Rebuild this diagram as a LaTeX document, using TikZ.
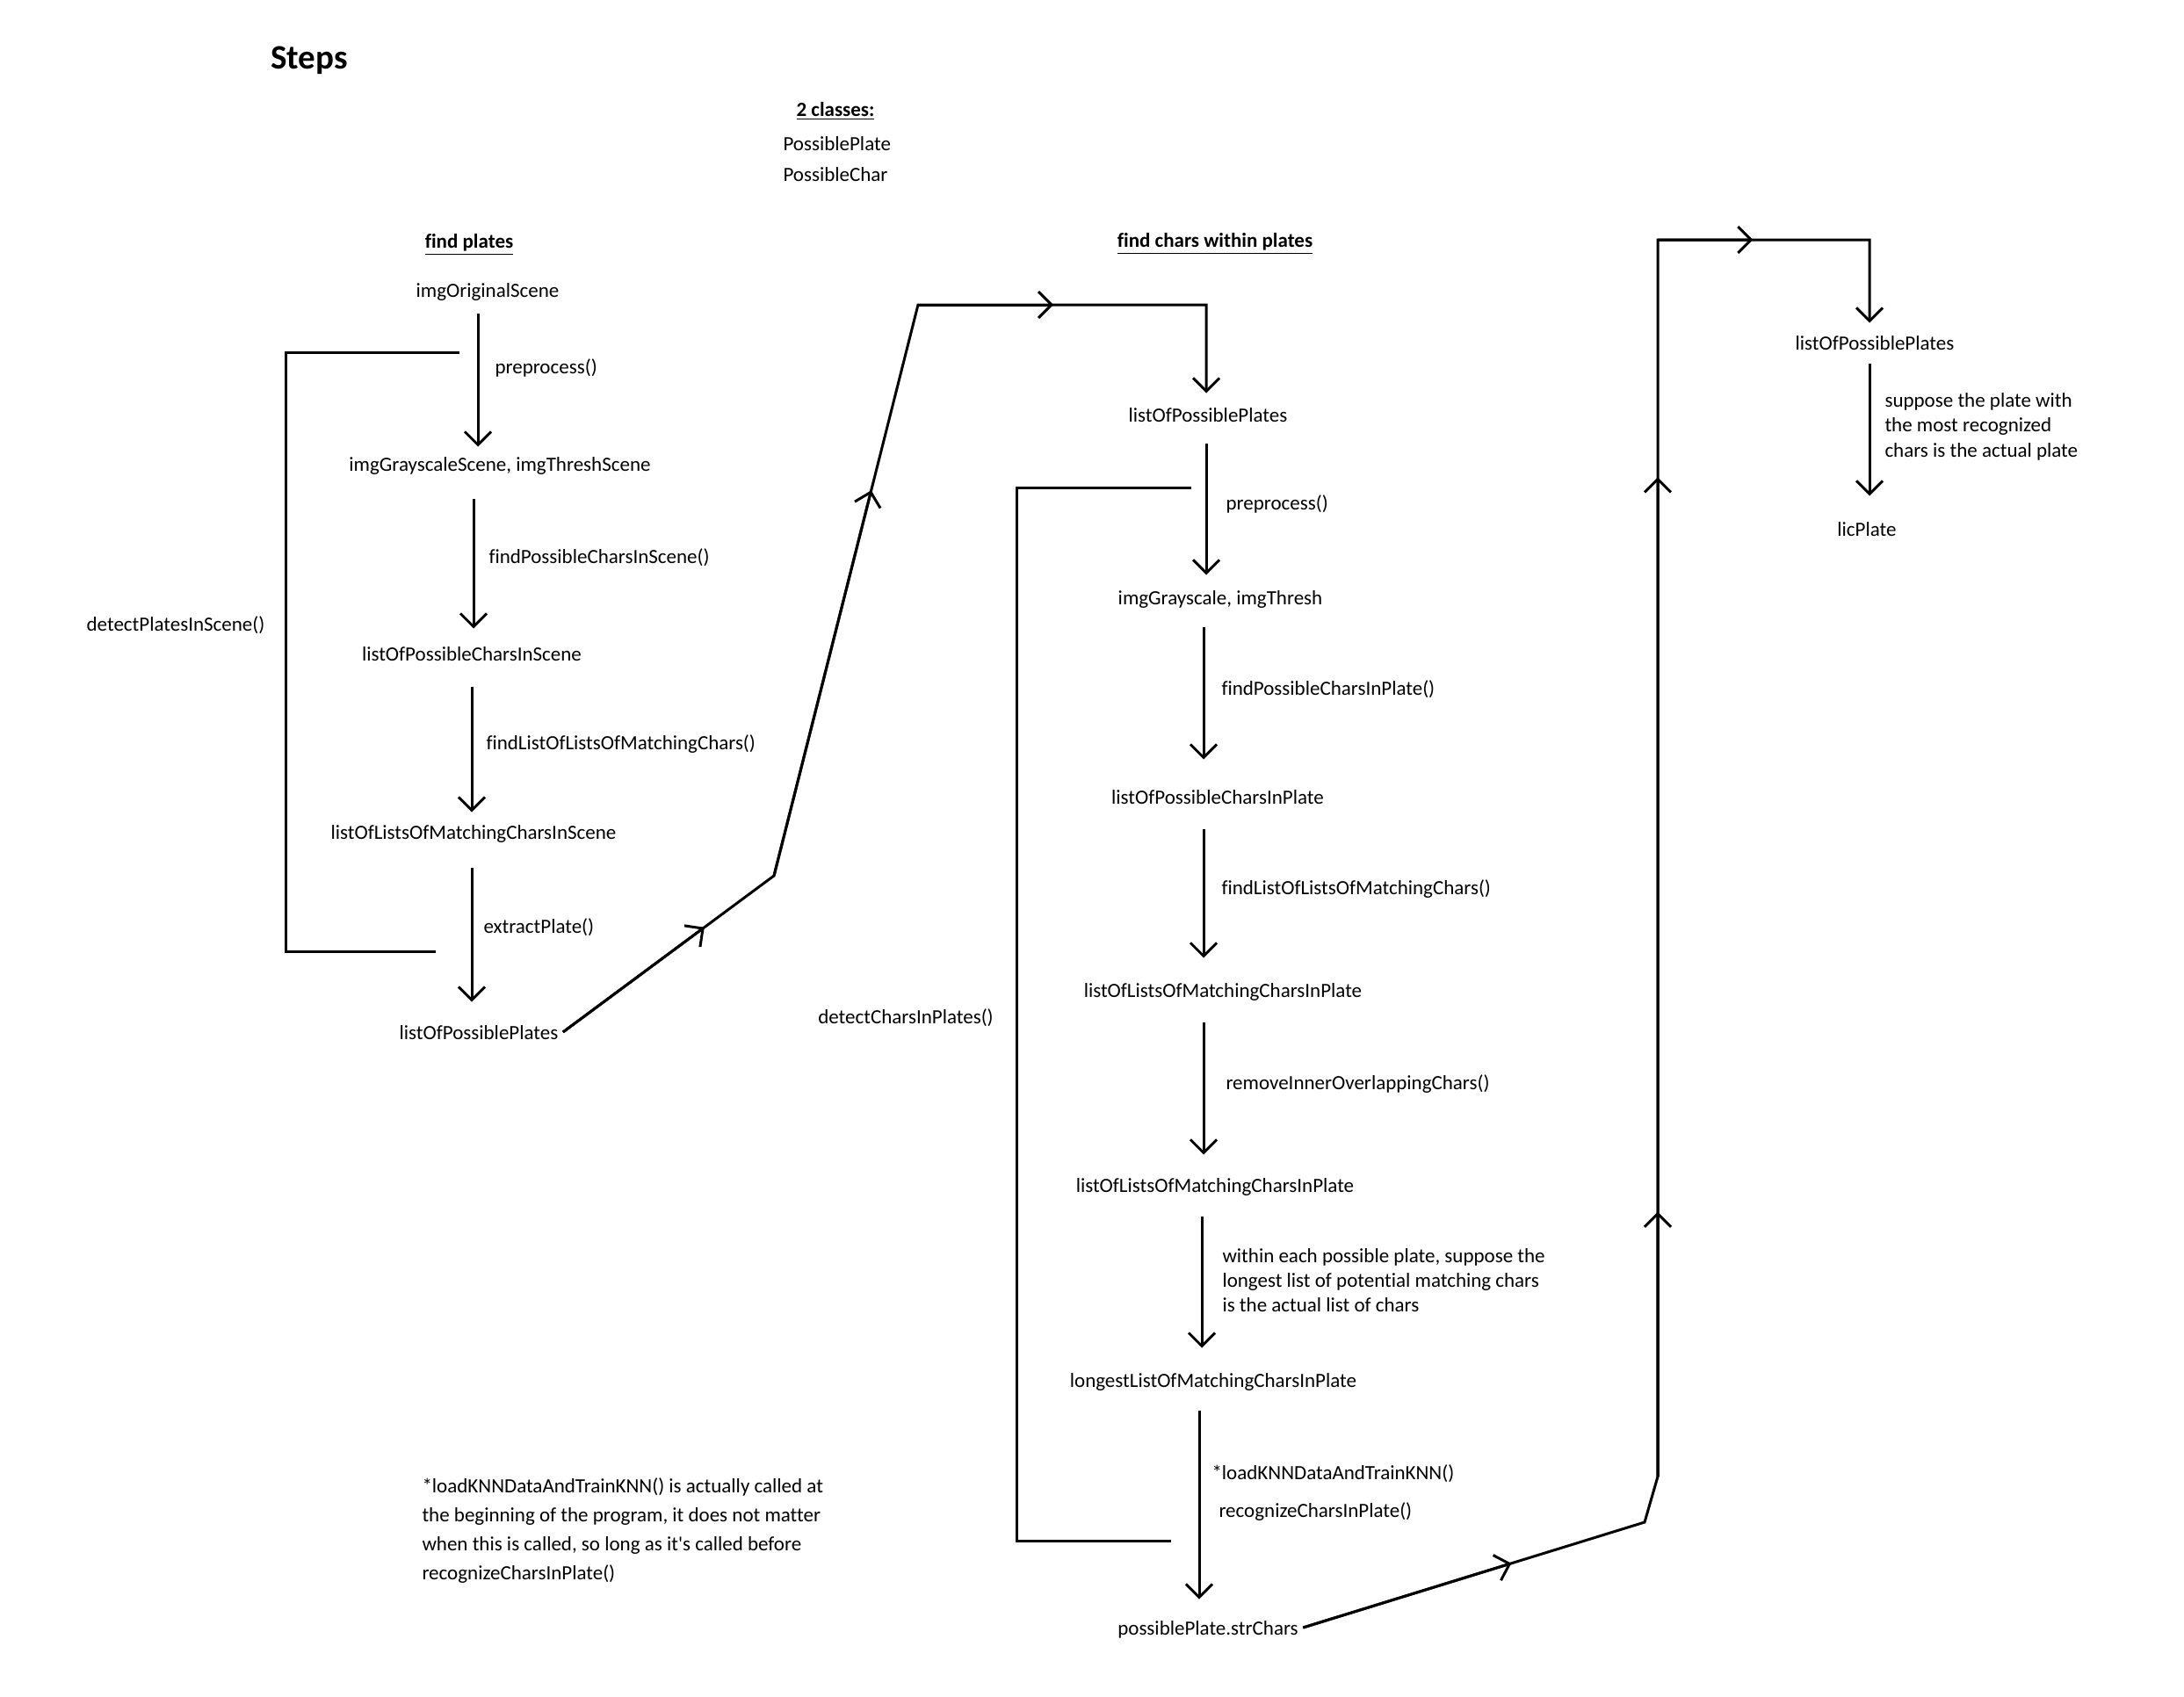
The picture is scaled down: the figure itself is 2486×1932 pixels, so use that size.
\documentclass[tikz,border=0pt]{standalone}
\usepackage{fontspec}
\setmainfont{Carlito}[Ligatures=NoCommon]
\usetikzlibrary{arrows.meta,calc}
\begin{document}
\begin{tikzpicture}[x=0.5pt,y=-0.5pt,line width=1.5pt,
  txt/.style={font=\fontsize{11.5}{14}\selectfont, inner xsep=2pt, inner ysep=0pt,
              text height=9.5pt, text depth=1pt},
  stage/.style={txt, inner ysep=9.75pt},
  head/.style={txt, font=\fontsize{11.5}{14}\selectfont\bfseries},
  note/.style={align=left, inner sep=0pt, anchor=north west},
  arr/.style={-{Straight Barb[length=7.5pt,width=15pt]}}
]
\fill[white] (0,0) rectangle (2486,1932);
\useasboundingbox (0,0) rectangle (2486,1932);

% ---------- header ----------
\node[txt, font=\fontsize{19.5}{22}\selectfont\bfseries] (title) at (352,70) {Steps};
\node[head] (classes) at (951,124) {\underline{2 classes:}};
\node[txt, anchor=west] (cplate) at (886,163) {PossiblePlate};
\node[txt, anchor=west] (cchar) at (886,198) {PossibleChar};

% ---------- find plates ----------
\node[head] (hplates) at (534,274) {\underline{find plates}};
\node[stage] (ios)   at (555,330)  {imgOriginalScene};
\node[stage] (igs)   at (569,528)  {imgGrayscaleScene, imgThreshScene};
\node[stage] (lpcs)  at (537,744)  {listOfPossibleCharsInScene};
\node[stage] (llmcs) at (539,947)  {listOfListsOfMatchingCharsInScene};
\node[stage] (lpp1)  at (545,1175) {listOfPossiblePlates};

\node[txt, anchor=west] (f1) at (558,417)  {preprocess()};
\node[txt, anchor=west] (f2) at (551,633)  {findPossibleCharsInScene()};
\node[txt, anchor=west] (f3) at (548,845)  {findListOfListsOfMatchingChars()};
\node[txt, anchor=west] (f4) at (545,1054) {extractPlate()};
\node[txt] (detplates) at (200,710) {detectPlatesInScene()};

\coordinate (L1) at (544,0);
\coordinate (L2) at (539,0);
\coordinate (L3) at (537,0);
\draw[arr, shorten <=-2.5pt, shorten >=-6pt]  (ios.south -| L1)   -- (igs.north -| L1);
\draw[arr, shorten <=4pt,    shorten >=-1.5pt] (igs.south -| L2)   -- (lpcs.north -| L2);
\draw[arr, shorten <=3pt,    shorten >=-4.5pt] (lpcs.south -| L3)  -- (llmcs.north -| L3);
\draw[arr, shorten <=4.5pt,  shorten >=1.5pt]  (llmcs.south -| L3) -- (lpp1.north -| L3);

% loop bracket of detectPlatesInScene()
\coordinate (pa) at (523,401);
\coordinate (pb) at (325,401);
\coordinate (pc) at (325,1083);
\coordinate (pd) at (496,1083);
\draw (pa) -- (pb) -- (pc) -- (pd);

% ---------- find chars within plates ----------
\node[head] (hchars) at (1383,273) {\underline{find chars within plates}};
\node[stage] (lpp2)    at (1375,472)  {listOfPossiblePlates};
\node[stage] (igt)     at (1389,680)  {imgGrayscale, imgThresh};
\node[stage] (lpcp)    at (1386,907)  {listOfPossibleCharsInPlate};
\node[stage] (llm1)    at (1392,1127) {listOfListsOfMatchingCharsInPlate};
\node[stage] (llm2)    at (1383,1349) {listOfListsOfMatchingCharsInPlate};
\node[stage] (longest) at (1381,1571) {longestListOfMatchingCharsInPlate};
\node[stage] (ps)      at (1375,1853) {possiblePlate.strChars};

\node[txt, anchor=west] (g1) at (1390,572)  {preprocess()};
\node[txt, anchor=west] (g2) at (1385,783)  {findPossibleCharsInPlate()};
\node[txt, anchor=west] (g3) at (1385,1010) {findListOfListsOfMatchingChars()};
\node[txt, anchor=west] (g4) at (1390,1232) {removeInnerOverlappingChars()};
\node[note, font=\fontsize{11.5}{14}\selectfont] (g5) at (1390,1420)
  {within each possible plate, suppose the\\longest list of potential matching chars\\is the actual list of chars};
\node[txt, anchor=west] (g6) at (1374,1676) {*loadKNNDataAndTrainKNN()};
\node[txt, anchor=west] (g7) at (1382,1719) {recognizeCharsInPlate()};
\node[txt] (detchars) at (1031,1157) {detectCharsInPlates()};

\coordinate (M2) at (1370,0);
\coordinate (M3) at (1368,0);
\coordinate (M4) at (1365,0);
\coordinate (k3) at (1373,347);
\draw[arr, shorten <=0.5pt, shorten >=-3pt]  (lpp2.south -| k3)    -- (igt.north -| k3);
\draw[arr, shorten <=1pt,   shorten >=5.5pt] (igt.south -| M2)     -- (lpcp.north -| M2);
\draw[arr, shorten <=2.5pt, shorten >=2.5pt] (lpcp.south -| M2)    -- (llm1.north -| M2);
\draw[arr, shorten <=2.5pt, shorten >=1.5pt] (llm1.south -| M2)    -- (llm2.north -| M2);
\draw[arr, shorten <=2pt,   shorten >=2.5pt] (llm2.south -| M3)    -- (longest.north -| M3);
\draw[arr, shorten <=1.5pt, shorten >=0.5pt] (longest.south -| M4) -- (ps.north -| M4);

% loop bracket of detectCharsInPlates()
\coordinate (qa) at (1356,555);
\coordinate (qb) at (1157,555);
\coordinate (qc) at (1157,1754);
\coordinate (qd) at (1333,1754);
\draw (qa) -- (qb) -- (qc) -- (qd);

% plates passed on to the char search
\coordinate (k1) at (881,997);
\coordinate (k2) at (1045,347);
\draw[arr, shorten >=-3.5pt] (lpp1.east) -- (k1) -- (k2) -- (k3) -- (k3 |- lpp2.north);
\draw[arr] (lpp1.east) -- ($(lpp1.east)!0.67!(k1)$);
\draw[arr] (k1) -- ($(k1)!0.675!(k2)$);
\draw[arr] (k2) -- ($(k2)!0.47!(k3)$);

% ---------- final choice ----------
\node[stage] (lpp3) at (2134,390) {listOfPossiblePlates};
\node[stage] (lic)  at (2125,602) {licPlate};
\node[note, font=\fontsize{11.5}{14.25}\selectfont] (h1) at (2144,446)
  {suppose the plate with\\the most recognized\\chars is the actual plate};

\coordinate (k4) at (1872,1733);
\coordinate (k5) at (1887,1681);
\coordinate (k6) at (1887,273);
\coordinate (k7) at (2128,273);
\draw[arr, shorten >=-4.5pt] (ps.east) -- (k4) -- (k5) -- (k6) -- (k7) -- (k7 |- lpp3.north);
\draw[arr] (ps.east) -- ($(ps.east)!0.61!(k4)$);
\draw[arr] (k5) -- ($(k5)!0.214!(k6)$);
\draw[arr] (k5) -- ($(k5)!0.808!(k6)$);
\draw[arr] (k6) -- ($(k6)!0.45!(k7)$);
\draw[arr, shorten <=-4pt, shorten >=3pt] (lpp3.south -| k7) -- (lic.north -| k7);

% ---------- footnote ----------
\node[note, font=\fontsize{11.5}{16.5}\selectfont] (foot) at (479,1681)
  {*loadKNNDataAndTrainKNN() is actually called at\\the beginning of the program, it does not matter\\when this is called, so long as it\textquotesingle s called before\\recognizeCharsInPlate()};
\end{tikzpicture}
\end{document}
